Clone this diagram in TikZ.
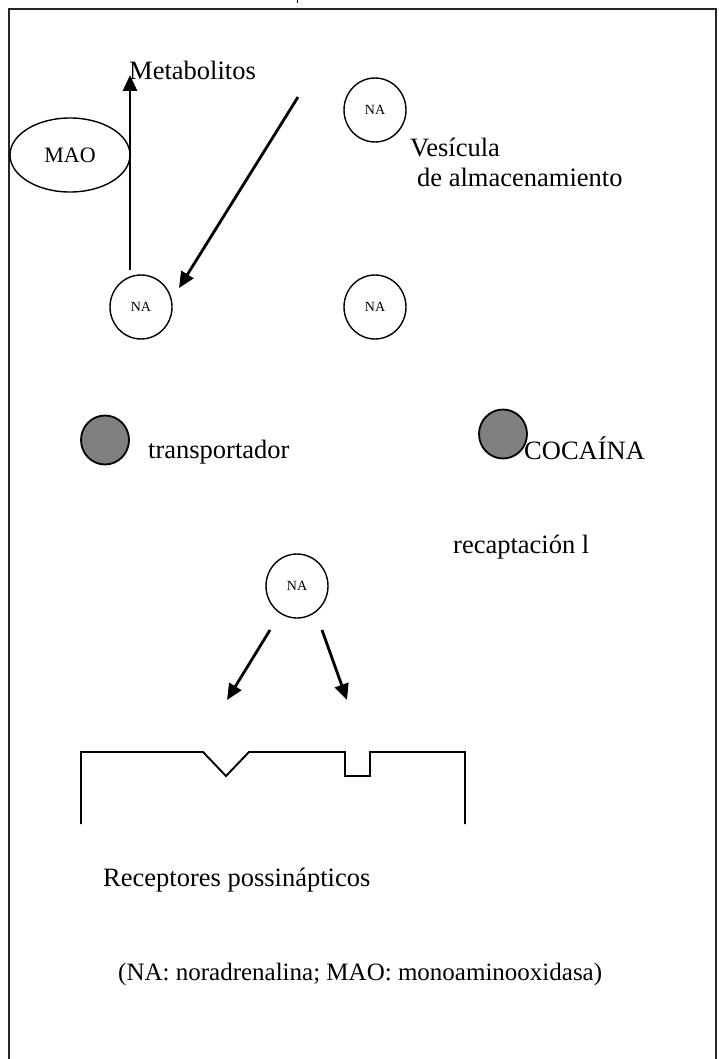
\documentclass[tikz,border=0pt]{standalone}
\usepackage{fontspec}
\setmainfont{Liberation Serif}
\usetikzlibrary{arrows.meta,shapes.geometric}
\definecolor{tgray}{HTML}{808080}
\begin{document}
\begin{tikzpicture}[x=1pt,y=-1pt,
  lbl/.style={anchor=base west,inner sep=0pt,font=\fontsize{26.5}{30}\selectfont},
  vesic/.style={draw,line width=1.4pt,ellipse,minimum width=62pt,minimum height=64pt,inner sep=0pt,font=\fontsize{14}{16}\selectfont},
  graycirc/.style={draw,line width=1.8pt,ellipse,fill=tgray,minimum width=48pt,minimum height=49pt,inner sep=0pt},
  arr/.style={line width=2.8pt,-{Triangle[length=16pt,width=14pt]}},
  frame/.style={line width=2.2pt,draw=black!85}
]
\useasboundingbox (0,0) rectangle (718,1059);
% frame
\draw[frame] (9,1062) -- (9,9) -- (716,9) -- (716,1062);
\draw[line width=1pt] (297,0) -- (297,3);
% MAO
\node[draw,line width=1.4pt,ellipse,minimum width=120pt,minimum height=74pt,inner sep=0pt,font=\fontsize{22}{24}\selectfont] (mao) at (70,155) {MAO};
% vesicles
\node[vesic] (na1) at (375,110) {NA};
\node[vesic] (na2) at (141,307) {NA};
\node[vesic] (na3) at (375,307) {NA};
\node[vesic] (na4) at (297,586) {NA};
% labels
\node[lbl] (metab) at (129,80) {Metabolitos};
\node[lbl] (ves1) at (410,157) {Vesícula};
\node[lbl] (ves2) at (417,187) {de almacenamiento};
\node[graycirc] (tr) at (105,440) {};
\node[lbl] (trl) at (148,458) {transportador};
\node[graycirc] (coc) at (503,434) {};
\node[lbl] (cocl) at (524,459) {COCAÍNA};
\node[lbl] (recap) at (453,553) {recaptación l};
\node[lbl] (rec) at (103,886) {Receptores possinápticos};
\node[lbl,font=\fontsize{25}{28}\selectfont] (foot) at (118,980) {(NA: noradrenalina; MAO: monoaminooxidasa)};
% arrows
\coordinate (m0) at (130,270);
\coordinate (m1) at (130,75);
\draw[arr] (m0) -- (m1);
\coordinate (d0) at (298,97);
\coordinate (d1) at (179,288);
\draw[arr] (d0) -- (d1);
\coordinate (b0) at (270,630);
\coordinate (b1) at (227,700);
\draw[arr] (b0) -- (b1);
\coordinate (c0) at (322,630);
\coordinate (c1) at (347,700);
\draw[arr] (c0) -- (c1);
% receptor membrane
\draw[line width=1.9pt] (81,824) -- (81,752) -- (203,752) -- (226,776) -- (249,752) -- (345,752) -- (345,776) -- (370,776) -- (370,752) -- (465,752) -- (465,824);
\end{tikzpicture}
\end{document}
